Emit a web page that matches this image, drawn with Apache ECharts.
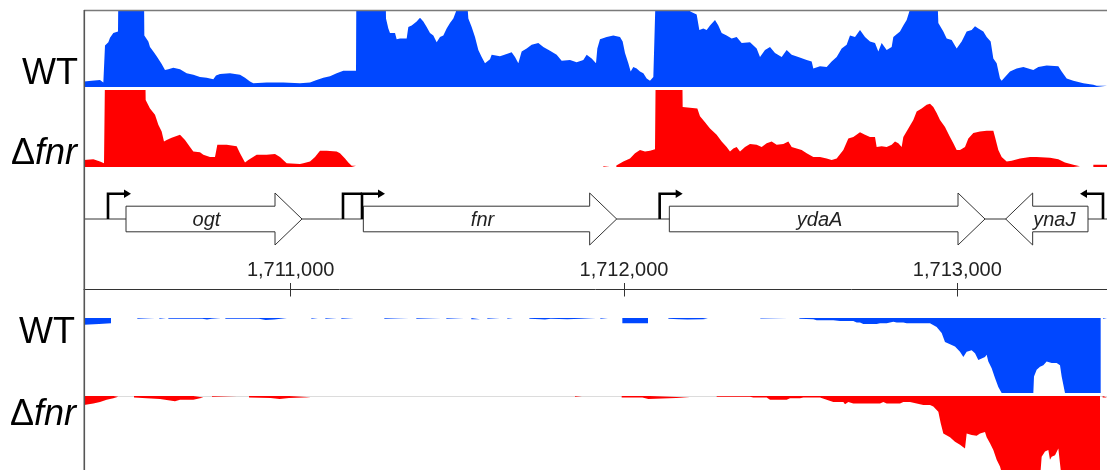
<!DOCTYPE html>
<html>
<head>
<meta charset="utf-8">
<script src="https://cdn.jsdelivr.net/npm/echarts@6/dist/echarts.min.js"></script>
<style>
  html, body { margin: 0; padding: 0; background: #fff; }
  #chart { width: 1107px; height: 470px; }
</style>
</head>
<body>
<div id="chart"></div>
<script>
// Genomic window shown (bp)
const X_MIN = 1710380;
const X_MAX = 1713449;
const TICKS = [1711000, 1712000, 1713000];

// Track labels
const TRACK_WT = 'WT';
const TRACK_FNR = 'fnr';

// Coverage, upper pair of tracks: [position, signal] (100 = panel top; larger values run off the top)
const WT_TOP = [
  [1710380,7],[1710403,8],[1710428,9],[1710438,6],[1710442,6],[1710443,54],[1710453,58],[1710458,64],[1710468,70],[1710482,72],
  [1710483,120],[1710560,120],[1710561,67],[1710573,59],[1710578,52],[1710588,46],[1710598,40],[1710613,30],[1710623,22],[1710633,23],
  [1710648,25],[1710668,23],[1710688,18],[1710708,16],[1710728,13],[1710748,12],[1710768,10],[1710776,15],[1710788,17],[1710818,18],
  [1710848,16],[1710863,12],[1710878,7],[1710888,5],[1710928,6],[1710978,6],[1711028,5],[1711058,6],[1711078,9],[1711098,12],
  [1711118,14],[1711138,18],[1711158,21],[1711196,21],[1711197,120],[1711285,120],[1711286,89],[1711293,76],[1711298,70],[1711313,70],
  [1711318,62],[1711328,63],[1711348,63],[1711353,78],[1711363,80],[1711378,85],[1711388,90],[1711398,85],[1711408,78],[1711418,70],
  [1711428,67],[1711438,58],[1711448,65],[1711458,67],[1711468,76],[1711478,83],[1711488,89],[1711496,98],[1711500,120],[1711528,120],
  [1711533,89],[1711543,78],[1711553,65],[1711563,48],[1711573,39],[1711583,31],[1711598,36],[1711603,42],[1711628,40],[1711648,43],
  [1711663,45],[1711673,39],[1711683,31],[1711693,46],[1711708,50],[1711723,55],[1711743,57],[1711758,52],[1711778,47],[1711798,42],
  [1711813,34],[1711838,35],[1711858,32],[1711878,35],[1711888,42],[1711903,37],[1711916,31],[1711920,50],[1711928,62],[1711948,65],
  [1711968,67],[1711988,65],[1711996,59],[1712003,44],[1712013,31],[1712020,20],[1712028,26],[1712038,24],[1712048,20],[1712058,18],
  [1712068,11],[1712078,8],[1712088,13],[1712094,15],[1712095,120],[1712198,120],[1712199,98],[1712218,94],[1712226,74],[1712238,76],
  [1712248,74],[1712258,80],[1712273,87],[1712283,80],[1712293,70],[1712308,67],[1712323,63],[1712338,65],[1712353,57],[1712378,58],
  [1712398,50],[1712408,39],[1712423,48],[1712438,52],[1712453,44],[1712473,39],[1712488,48],[1712503,42],[1712523,39],[1712548,35],
  [1712563,33],[1712568,24],[1712588,27],[1712608,26],[1712623,33],[1712638,39],[1712653,50],[1712668,55],[1712678,67],[1712693,65],
  [1712708,74],[1712723,65],[1712738,59],[1712753,57],[1712763,46],[1712773,57],[1712788,48],[1712803,52],[1712808,65],[1712828,72],
  [1712838,80],[1712848,87],[1712856,98],[1712860,120],[1712940,120],[1712943,83],[1712958,72],[1712968,63],[1712983,61],[1712998,50],
  [1713013,59],[1713028,72],[1713043,74],[1713053,79],[1713063,76],[1713078,72],[1713088,65],[1713100,59],[1713108,37],[1713118,31],
  [1713128,11],[1713133,8],[1713143,13],[1713158,20],[1713178,24],[1713198,26],[1713213,24],[1713228,22],[1713243,26],[1713268,28],
  [1713303,27],[1713313,20],[1713328,11],[1713348,8],[1713378,5],[1713408,3],[1713418,1.5],[1713449,1.5]
];

const FNR_TOP = [
  [1710380,9],[1710408,10],[1710428,7],[1710440,5],[1710442,5],[1710443,120],[1710564,120],[1710565,87],[1710578,76],[1710593,68],
  [1710603,55],[1710613,46],[1710620,33],[1710628,35],[1710643,38],[1710668,42],[1710683,35],[1710698,26],[1710708,20],[1710728,19],
  [1710738,16],[1710758,13],[1710773,13],[1710780,29],[1710808,29],[1710838,27],[1710848,18],[1710863,6],[1710873,9],[1710898,16],
  [1710928,16],[1710953,17],[1710968,13],[1710988,5],[1711028,4],[1711038,5],[1711058,7],[1711073,13],[1711088,21],[1711108,21],
  [1711138,20],[1711148,18],[1711163,11],[1711173,6],[1711183,1.5],[1711196,1.5],[1711197,0],[1711937,0],[1711938,1],[1711957,1],
  [1711958,0],[1711976,0],[1711977,2],[1711998,7],[1712018,11],[1712033,18],[1712048,22],[1712063,20],[1712078,21],[1712093,23],
  [1712095,120],[1712175,120],[1712176,78],[1712220,76],[1712228,66],[1712243,58],[1712258,50],[1712278,42],[1712293,33],[1712308,26],
  [1712318,20],[1712328,24],[1712338,26],[1712348,20],[1712363,26],[1712378,30],[1712398,29],[1712413,26],[1712428,31],[1712443,33],
  [1712458,29],[1712478,30],[1712493,33],[1712503,26],[1712518,24],[1712533,22],[1712548,18],[1712568,13],[1712588,13],[1712608,11],
  [1712623,9],[1712638,11],[1712658,22],[1712673,37],[1712688,39],[1712708,45],[1712723,42],[1712738,39],[1712753,39],[1712758,26],
  [1712773,27],[1712788,26],[1712803,29],[1712813,33],[1712823,31],[1712833,26],[1712838,39],[1712853,50],[1712868,61],[1712878,72],
  [1712893,76],[1712908,81],[1712918,82],[1712928,78],[1712938,70],[1712948,61],[1712963,52],[1712978,39],[1712988,31],[1712998,22],
  [1713008,22],[1713023,26],[1713033,37],[1713048,44],[1713068,46],[1713088,47],[1713108,47],[1713113,39],[1713123,22],[1713133,13],
  [1713148,7],[1713163,8],[1713188,11],[1713218,13],[1713238,13],[1713278,12],[1713303,10],[1713323,6],[1713348,3],[1713368,1],
  [1713373,0],[1713407,0],[1713408,3],[1713449,3]
];

// Coverage, lower pair of tracks (drawn downward; -100 = panel depth)
const WT_BOTTOM = [
  [1710380,-9],[1710425,-8],[1710461,-7],[1710463,0],
  [1710539,0],[1710540,-1],[1710593,-1],[1710594,0],
  [1710605,0],[1710606,-1],[1710626,-1],[1710627,0],
  [1710632,0],[1710633,-1],[1710735,-1],[1710749,-2],[1710763,-1],[1710791,-1],[1710792,0],
  [1710803,0],[1710804,-1],[1710905,-1],[1710925,-2.5],[1710950,-2],[1710970,-1],[1710989,-1],[1710990,0],
  [1711061,0],[1711062,-1],[1711082,-1],[1711083,0],
  [1711103,0],[1711104,-1],[1711139,-1],[1711140,0],
  [1711151,0],[1711152,-1],[1711190,-1],[1711191,0],
  [1711280,0],[1711281,-1],[1711355,-1],[1711356,0],
  [1711376,0],[1711377,-1],[1711451,-1],[1711452,0],
  [1711466,0],[1711467,-1],[1711520,-1],[1711521,0],
  [1711541,0],[1711542,-1.5],[1711568,-1.5],[1711569,0],
  [1711589,0],[1711590,-1],[1711628,-1],[1711629,0],
  [1711649,0],[1711650,-1],[1711667,-1],[1711668,0],
  [1711715,0],[1711716,-1],[1711750,-1.5],[1711763,-2],[1711780,-1],[1711830,-1.5],[1711870,-1],[1711916,-1],[1711917,0],
  [1711928,0],[1711929,-1],[1711952,-1],[1711953,0],
  [1711994,0],[1711995,-7],[1712072,-7],[1712073,0],
  [1712132,0],[1712133,-1],[1712165,-1.5],[1712190,-2],[1712237,-1.5],[1712252,-1],[1712253,0],
  [1712408,0],[1712409,-0.6],[1712492,-0.6],[1712493,0],
  [1712525,0],[1712526,-1],[1712568,-1.5],[1712578,-3],[1712628,-3],[1712648,-4],[1712688,-4],[1712698,-6],[1712708,-6],
  [1712718,-8],[1712758,-8],[1712768,-7],[1712788,-7],[1712793,-5],[1712808,-5],[1712818,-6],[1712838,-6],[1712848,-7],
  [1712918,-7],[1712923,-6],[1712938,-12],[1712953,-20],[1712963,-32],[1712978,-35],[1712993,-38],[1713008,-45],[1713018,-52],
  [1713028,-45],[1713043,-43],[1713053,-47],[1713063,-56],[1713068,-56],[1713083,-52],[1713088,-49],[1713093,-58],[1713103,-67],
  [1713113,-80],[1713123,-92],[1713133,-100],[1713228,-100],[1713230,-78],[1713238,-69],[1713248,-65],[1713258,-63],[1713268,-58],
  [1713273,-56],[1713283,-60],[1713298,-60],[1713308,-63],[1713313,-78],[1713323,-100],[1713430,-100],[1713431,0],[1713436,0],
  [1713437,-1],[1713449,-1]
];

const FNR_BOTTOM = [
  [1710380,-12],[1710408,-10],[1710428,-8],[1710448,-5],[1710468,-3],[1710483,-1],[1710484,0],
  [1710529,0],[1710530,-2],[1710568,-3],[1710608,-4],[1710638,-6],[1710653,-7],[1710668,-5],[1710708,-5],[1710738,-2],[1710740,0],
  [1710763,0],[1710764,-1],[1710839,-1],[1710840,0],
  [1710874,0],[1710875,-2],[1710940,-2.5],[1710967,-4],[1710995,-2.5],[1711061,-1.5],[1711062,0],
  [1711852,0],[1711853,-1],[1711874,-1],[1711875,0],
  [1711992,0],[1711993,-2],[1712055,-2],[1712060,-4],[1712073,-4],[1712078,-2],[1712198,-2],[1712203,0],
  [1712277,0],[1712278,-1],[1712378,-1],[1712388,-2],[1712428,-2],[1712438,-5],[1712488,-5],[1712498,-3],[1712528,-3],
  [1712538,-2],[1712588,-2],[1712608,-5],[1712628,-8],[1712658,-8],[1712663,-11],[1712673,-8],[1712688,-10],[1712768,-10],
  [1712778,-8],[1712788,-10],[1712828,-10],[1712838,-8],[1712858,-8],[1712878,-10],[1712898,-12],[1712918,-12],[1712928,-14],
  [1712943,-21],[1712950,-36],[1712958,-50],[1712978,-55],[1712993,-61],[1713008,-65],[1713023,-70],[1713028,-50],[1713043,-52],
  [1713058,-53],[1713068,-50],[1713083,-48],[1713088,-55],[1713098,-63],[1713108,-72],[1713118,-85],[1713128,-94],[1713138,-110],
  [1713248,-110],[1713253,-81],[1713263,-74],[1713273,-72],[1713278,-85],[1713283,-81],[1713293,-79],[1713303,-70],[1713308,-69],
  [1713313,-110],[1713428,-110],[1713429,0],[1713435,0],[1713436,-2],[1713449,-2]
];

// Gene annotation
const GENE_NAMES  = ['ogt', 'fnr', 'ydaA', 'ynaJ'];
const GENE_START  = [1710506, 1711218, 1712136, 1713145];
const GENE_END    = [1711034, 1711978, 1713083, 1713392];
const GENE_STRAND = [1, 1, 1, -1];

// Transcription start sites
const TSS_POS    = [1710452, 1711157, 1711214, 1712107, 1713437];
const TSS_STRAND = [1, 1, 1, 1, -1];

const BLUE = '#0047ff';
const RED = '#ff0000';
const FONT = '"Liberation Sans", Arial, Helvetica, sans-serif';

const chart = echarts.init(document.getElementById('chart'), null, { renderer: 'canvas' });

// Gene-track geometry (pixels, relative to the track grid's top)
const CY = 39;          // backbone / arrow centre
const TSS_TOP = 13.7;   // height of the bent promoter arrows
const HEAD = 27, BODY_H = 12.8, HEAD_H = 26;

function geneItem(params, api) {
  const cs = params.coordSys;
  const cy = cs.y + CY;
  const xs = api.coord([api.value(0), 0])[0];
  const xe = api.coord([api.value(1), 0])[0];
  const strand = api.value(2);
  let pts, lx;
  if (strand > 0) {
    const xh = xe - HEAD;
    pts = [[xs, cy - BODY_H], [xh, cy - BODY_H], [xh, cy - HEAD_H], [xe, cy], [xh, cy + HEAD_H], [xh, cy + BODY_H], [xs, cy + BODY_H]];
    lx = (xs + xh) / 2 + 6;
  } else {
    const xh = xs + HEAD;
    pts = [[xe, cy - BODY_H], [xh, cy - BODY_H], [xh, cy - HEAD_H], [xs, cy], [xh, cy + HEAD_H], [xh, cy + BODY_H], [xe, cy + BODY_H]];
    lx = (xh + xe) / 2 - 6;
  }
  return {
    type: 'group',
    children: [
      { type: 'polygon', shape: { points: pts }, style: { fill: '#fff', stroke: '#333', lineWidth: 1 } },
      { type: 'text', x: lx, y: cy + 1,
        style: { text: GENE_NAMES[params.dataIndex], fill: '#222', font: 'italic 20px ' + FONT,
                 textAlign: 'center', textVerticalAlign: 'middle' } }
    ]
  };
}

function tssItem(params, api) {
  const cs = params.coordSys;
  const i = params.dataIndex;
  const cy = cs.y + CY;
  const ty = cs.y + TSS_TOP;
  const x = api.coord([api.value(0), 0])[0];
  const dir = api.value(1);
  const LEN = 23;
  // a neighbouring start site on the same strand closer than one arrow length shares its arm
  let end = x + dir * LEN, head = true;
  for (let j = 0; j < TSS_POS.length; j++) {
    if (j === i || TSS_STRAND[j] !== dir) continue;
    const nx = api.coord([TSS_POS[j], 0])[0];
    const d = (nx - x) * dir;
    if (d > 0 && d < LEN + 4) { end = nx; head = false; }
  }
  const children = [{
    type: 'polyline',
    shape: { points: [[x, cy], [x, ty], [head ? end - dir * 5 : end, ty]] },
    style: { stroke: '#000', lineWidth: 2.6, fill: null, lineJoin: 'miter' }
  }];
  if (head) {
    children.push({
      type: 'polygon',
      shape: { points: [[end - dir * 7, ty - 4.2], [end, ty], [end - dir * 7, ty + 4.2]] },
      style: { fill: '#000' }
    });
  }
  return { type: 'group', children };
}

// zero-coverage stretches are left empty rather than drawn at the baseline
const withGaps = (data) => data.map(([x, v]) => [x, v === 0 ? '-' : v]);

function area(data, idx, color) {
  return {
    type: 'line', xAxisIndex: idx, yAxisIndex: idx, data: withGaps(data),
    symbol: 'none', showSymbol: false, smooth: false, clip: true, silent: true, connectNulls: false,
    lineStyle: { width: 0, opacity: 0 },
    areaStyle: { color, opacity: 1 },
    z: 3
  };
}

const hiddenX = (g) => ({ gridIndex: g, type: 'value', min: X_MIN, max: X_MAX, show: false });
const grid = (top, height) => ({ left: 84, right: 0, top, height, outerBoundsMode: 'none', containLabel: false });

chart.setOption({
  animation: false,
  backgroundColor: '#fff',
  grid: [grid(10, 77), grid(90, 77), grid(180, 109), grid(318, 75), grid(396, 75)],
  xAxis: [
    hiddenX(0), hiddenX(1),
    {
      gridIndex: 2, type: 'value', min: X_MIN, max: X_MAX, position: 'bottom',
      splitLine: { show: false },
      axisLine: { show: true, onZero: false, lineStyle: { color: '#333', width: 1 } },
      axisTick: { show: true, customValues: TICKS, length: 7.5, lineStyle: { color: '#333', width: 1 } },
      axisLabel: {
        show: true, inside: true, customValues: TICKS, margin: 9,
        fontSize: 20, fontFamily: FONT, color: '#222',
        formatter: (v) => Number(v).toLocaleString('en-US')
      }
    },
    hiddenX(3), hiddenX(4),
    {
      gridIndex: 2, type: 'value', min: X_MIN, max: X_MAX, position: 'bottom',
      splitLine: { show: false },
      axisLine: { show: false },
      axisTick: { show: true, inside: true, customValues: TICKS, length: 6, lineStyle: { color: '#333', width: 1 } },
      axisLabel: { show: false }
    }
  ],
  yAxis: [
    { gridIndex: 0, type: 'value', min: 0, max: 100, show: false },
    { gridIndex: 1, type: 'value', min: 0, max: 100, show: false },
    { gridIndex: 2, type: 'value', min: 0, max: 1, show: false },
    { gridIndex: 3, type: 'value', min: -100, max: 0, show: false },
    { gridIndex: 4, type: 'value', min: -100, max: 0, show: false }
  ],
  series: [
    area(WT_TOP, 0, BLUE),
    area(FNR_TOP, 1, RED),
    area(WT_BOTTOM, 3, BLUE),
    area(FNR_BOTTOM, 4, RED),
    {
      type: 'custom', xAxisIndex: 2, yAxisIndex: 2, clip: false, silent: true, z: 5,
      data: GENE_START.map((s, i) => [s, GENE_END[i], GENE_STRAND[i]]),
      renderItem: geneItem
    },
    {
      type: 'custom', xAxisIndex: 2, yAxisIndex: 2, clip: false, silent: true, z: 6,
      data: TSS_POS.map((p, i) => [p, TSS_STRAND[i]]),
      renderItem: tssItem
    }
  ],
  graphic: [
    // gene-track backbone
    { type: 'line', z: 0, shape: { x1: 84, y1: 219, x2: 1107, y2: 219 }, style: { stroke: '#333', lineWidth: 1 } },
    // faint baseline under the lower Δfnr track
    { type: 'line', z: 1, shape: { x1: 84, y1: 396.5, x2: 1107, y2: 396.5 }, style: { stroke: '#dcdcdc', lineWidth: 1.2 } },
    // frame
    { type: 'line', z: 10, shape: { x1: 84, y1: 10.5, x2: 1107, y2: 10.5 }, style: { stroke: '#7a7a7a', lineWidth: 1.5 } },
    { type: 'line', z: 10, shape: { x1: 84.3, y1: 10, x2: 84.3, y2: 470 }, style: { stroke: '#555', lineWidth: 1.6 } },
    // track names
    { type: 'text', z: 10, x: 78, y: 74.5, style: { text: TRACK_WT, font: '36px ' + FONT, fill: '#000', textAlign: 'right', textVerticalAlign: 'middle' } },
    { type: 'text', z: 10, x: 77, y: 154.2, style: {
        text: 'Δ{i|' + TRACK_FNR + '}', font: '36px ' + FONT, fill: '#000', textAlign: 'right', textVerticalAlign: 'middle',
        rich: { i: { fontStyle: 'italic', fontSize: 36, fontFamily: FONT, fill: '#000' } } } },
    { type: 'text', z: 10, x: 75, y: 333, style: { text: TRACK_WT, font: '36px ' + FONT, fill: '#000', textAlign: 'right', textVerticalAlign: 'middle' } },
    { type: 'text', z: 10, x: 76, y: 415, style: {
        text: 'Δ{i|' + TRACK_FNR + '}', font: '36px ' + FONT, fill: '#000', textAlign: 'right', textVerticalAlign: 'middle',
        rich: { i: { fontStyle: 'italic', fontSize: 36, fontFamily: FONT, fill: '#000' } } } }
  ]
});
</script>
</body>
</html>
